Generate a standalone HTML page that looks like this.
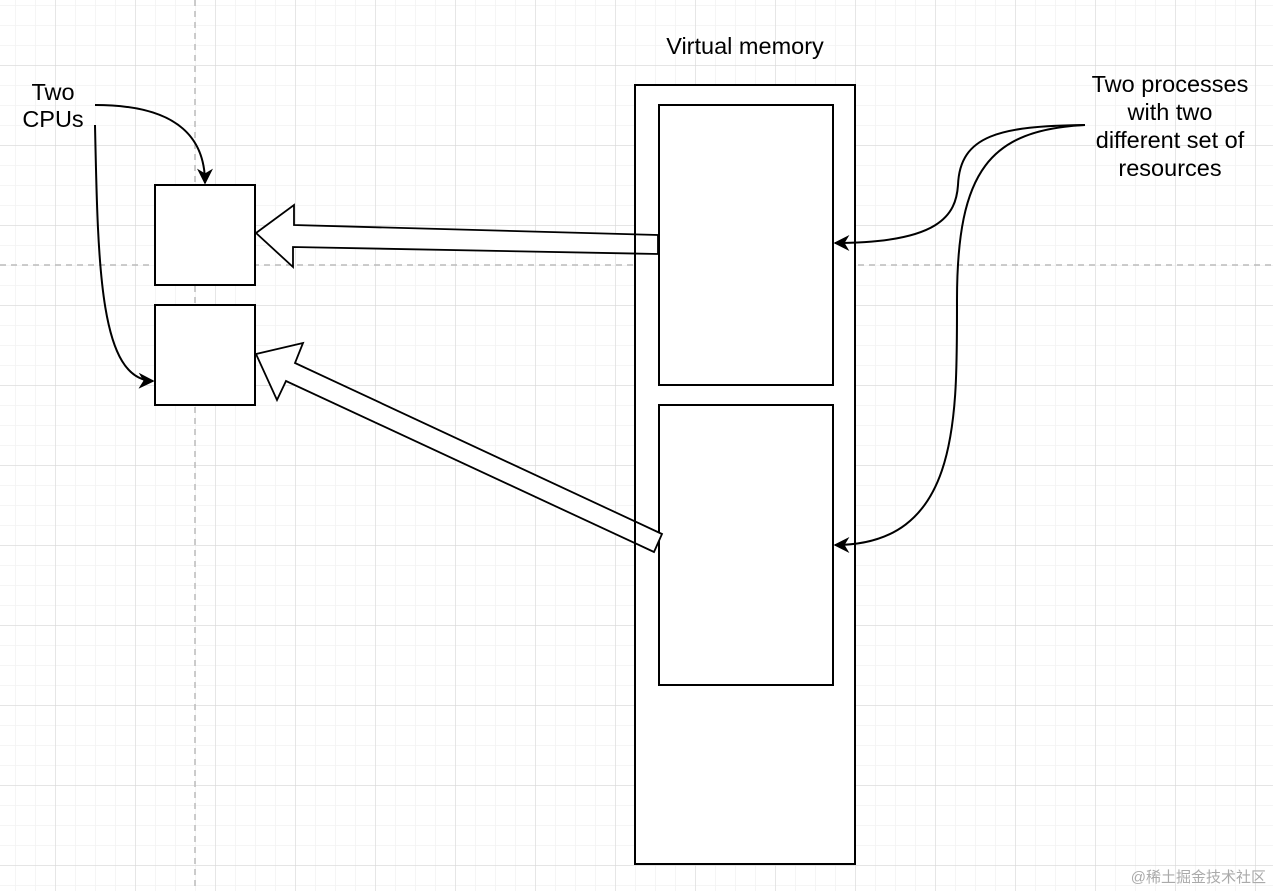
<!DOCTYPE html>
<html><head><meta charset="utf-8"><style>
html,body{margin:0;padding:0;background:#fff}
svg{display:block}
text{font-family:"Liberation Sans",sans-serif;font-size:23.5px;fill:#000}
</style></head><body>
<svg width="1273" height="891" viewBox="0 0 1273 891" xmlns="http://www.w3.org/2000/svg">
<defs>
<pattern id="minor" width="20" height="20" patternUnits="userSpaceOnUse" x="15" y="5">
<path d="M0 0H20M0 0V20" fill="none" stroke="#f2f2f2" stroke-width="1.5"/>
</pattern>
<pattern id="major" width="80" height="80" patternUnits="userSpaceOnUse" x="55" y="65">
<path d="M0 0H80M0 0V80" fill="none" stroke="#d9d9d9" stroke-width="1.2"/>
</pattern>
<marker id="ah" viewBox="0 0 10 10" refX="9" refY="5" markerWidth="16" markerHeight="16" markerUnits="userSpaceOnUse" orient="auto">
<path d="M0 0L10 5L0 10L3 5Z" fill="#000"/>
</marker>
</defs>
<rect width="1273" height="891" fill="url(#minor)"/>
<rect width="1273" height="891" fill="url(#major)"/>
<line x1="195" y1="0" x2="195" y2="891" stroke="#bbb" stroke-width="1.5" stroke-dasharray="6 5"/>
<line x1="0" y1="265" x2="1273" y2="265" stroke="#bbb" stroke-width="1.5" stroke-dasharray="6 5"/>

<rect x="155" y="185" width="100" height="100" fill="#fff" stroke="#000" stroke-width="2"/>
<rect x="155" y="305" width="100" height="100" fill="#fff" stroke="#000" stroke-width="2"/>

<rect x="635" y="85" width="220" height="779" fill="#fff" stroke="#000" stroke-width="2"/>
<rect x="659" y="105" width="174" height="280" fill="#fff" stroke="#000" stroke-width="2"/>
<rect x="659" y="405" width="174" height="280" fill="#fff" stroke="#000" stroke-width="2"/>

<polygon points="256,233 294,205 294,225 658,235 658,254 293,247 293,267" fill="#fff" stroke="#000" stroke-width="1.8"/>
<polygon points="256,354 303,343 295,363 662,534 654,552 286,381 277,400" fill="#fff" stroke="#000" stroke-width="1.8"/>
<line x1="635" y1="85" x2="635" y2="864" stroke="#000" stroke-width="2"/>

<text x="745" y="54" text-anchor="middle">Virtual memory</text>
<text x="53" y="100" text-anchor="middle">Two</text>
<text x="53" y="127" text-anchor="middle">CPUs</text>
<text x="1170" y="92" text-anchor="middle">Two processes</text>
<text x="1170" y="120" text-anchor="middle">with two</text>
<text x="1170" y="148" text-anchor="middle">different set of</text>
<text x="1170" y="176" text-anchor="middle">resources</text>

<g fill="none" stroke="#000" stroke-width="2">
<path d="M95 105 C160 105 205 125 205 183" marker-end="url(#ah)"/>
<path d="M95 125 C98 270 100 380 153 381" marker-end="url(#ah)"/>
<path d="M1085 125 C1000 126 960 135 958 185 C956 215 940 243 835 243" marker-end="url(#ah)"/>
<path d="M1085 125 C990 130 957 170 957 300 C957 420 960 545 835 545" marker-end="url(#ah)"/>
</g>
<text x="1266" y="882" text-anchor="end" style="font-family:'Liberation Sans','Noto Sans CJK SC',sans-serif;font-size:15px;fill:#aaa">@稀土掘金技术社区</text>
</svg>
</body></html>
